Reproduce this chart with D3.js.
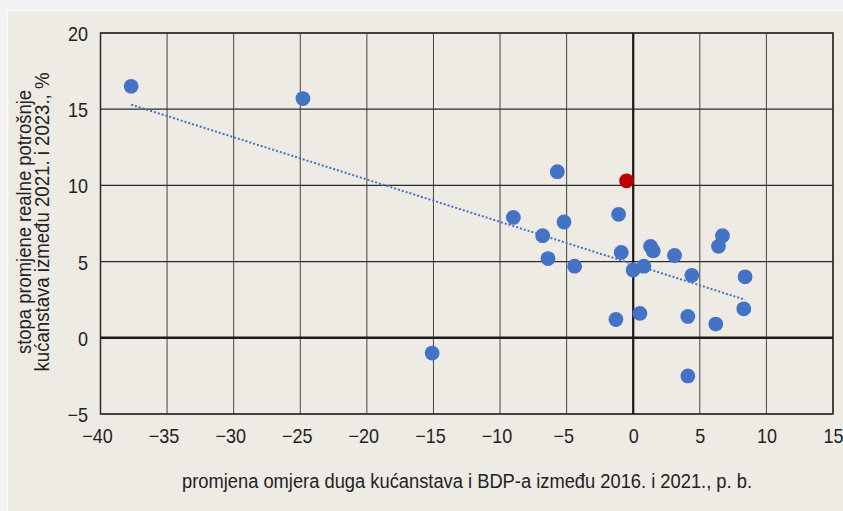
<!DOCTYPE html>
<html><head><meta charset="utf-8">
<script src="https://cdn.jsdelivr.net/npm/d3@7"></script>
<style>
html,body{margin:0;padding:0;background:#f2f2f2;}
svg{display:block;}
text{font-family:"Liberation Sans",Arial,Helvetica,sans-serif;fill:#222;}
</style></head><body>
<svg id="c" width="843" height="511"></svg>
<script>
// Data: x = change of household debt/GDP ratio 2016–2021 (p.p.), y = change of real consumption 2021–2023 (%)
const xVals = [-37.7, -24.8, -15.1, -9.0, -6.8, -6.4, -5.7, -5.2, -4.4, -1.3, -1.1, -0.9, -0.01, 0.5, 0.8, 1.3, 1.5, 3.1, 4.1, 4.1, 4.4, 6.2, 6.4, 6.7, 8.3, 8.4];
const yVals = [16.5, 15.7, -1.0, 7.9, 6.7, 5.2, 10.9, 7.6, 4.7, 1.2, 8.1, 5.6, 4.45, 1.6, 4.7, 6.0, 5.7, 5.4, 1.4, -2.5, 4.1, 0.9, 6.0, 6.7, 1.9, 4.0];
const highlightX = [-0.5];
const highlightY = [10.3];
const trendX = [-37.7, 8.4];
const trendY = [15.3, 2.5];
const xTicks = [-40, -35, -30, -25, -20, -15, -10, -5, 0, 5, 10, 15];
const yTicks = [-5, 0, 5, 10, 15, 20];
const xTitle = "promjena omjera duga kućanstava i BDP-a između 2016. i 2021., p. b.";
const yTitle = ["stopa promjene realne potrošnje", "kućanstava između 2021. i 2023., %"];

const svg = d3.select("#c");
// panel
svg.append("rect").attr("x", 7.5).attr("y", 10.5).attr("width", 850).attr("height", 510)
  .attr("fill", "#eeebe5").attr("stroke", "#fafafa").attr("stroke-width", 1.5);

const x = d3.scaleLinear().domain([-40, 15]).range([100.5, 833]);
const y = d3.scaleLinear().domain([-5, 20]).range([414, 33]);

const g = svg.append("g");
// grid
g.selectAll(".vg").data(xTicks).join("line")
  .attr("x1", d => x(d)).attr("x2", d => x(d)).attr("y1", y(20)).attr("y2", y(-5))
  .attr("stroke", "#444").attr("stroke-width", 1);
g.selectAll(".hg").data(yTicks).join("line")
  .attr("y1", d => y(d)).attr("y2", d => y(d)).attr("x1", x(-40)).attr("x2", x(15))
  .attr("stroke", "#2a2a2a").attr("stroke-width", 1.2);
// frame
g.append("rect").attr("x", x(-40)).attr("y", y(20)).attr("width", x(15) - x(-40)).attr("height", y(-5) - y(20))
  .attr("fill", "none").attr("stroke", "#2a2a2a").attr("stroke-width", 1.5);
// zero lines
g.append("line").attr("x1", x(0)).attr("x2", x(0)).attr("y1", y(20)).attr("y2", y(-5)).attr("stroke", "#1a1a1a").attr("stroke-width", 2.2);
g.append("line").attr("x1", x(-40)).attr("x2", x(15)).attr("y1", y(0)).attr("y2", y(0)).attr("stroke", "#1a1a1a").attr("stroke-width", 2.5);

const fmt = d => String(d).replace("-", "\u2212");
// axes (labels only)
const xAxis = d3.axisBottom(x).tickValues(xTicks).tickSize(0).tickPadding(0).tickFormat(fmt);
const xa = svg.append("g").attr("transform", `translate(0,${y(-5) + 28.5})`).call(xAxis);
xa.select(".domain").remove();
xa.selectAll(".tick text").attr("font-size", 20).attr("font-family", null).attr("y", 0).attr("dy", 0)
  .attr("fill", "#222")
  .attr("transform", d => `translate(${d < 0 ? -3.5 : 0},0) scale(0.9,1)`);

const yAxis = d3.axisLeft(y).tickValues(yTicks).tickSize(0).tickPadding(0).tickFormat(fmt);
const ya = svg.append("g").attr("transform", `translate(88,0)`).call(yAxis);
ya.select(".domain").remove();
ya.selectAll(".tick text").attr("font-size", 20).attr("font-family", null).attr("x", 0).attr("dy", 0).attr("y", 7.5)
  .attr("fill", "#222").attr("transform", "scale(0.9,1)");
svg.selectAll(".tick line").remove();

// trendline
svg.append("line")
  .attr("x1", x(trendX[0])).attr("y1", y(trendY[0])).attr("x2", x(trendX[1])).attr("y2", y(trendY[1]))
  .attr("stroke", "#4472c4").attr("stroke-width", 2).attr("stroke-dasharray", "2,2");

// points
const pts = xVals.map((v, i) => ({ x: v, y: yVals[i] }));
svg.selectAll(".pt").data(pts).join("circle")
  .attr("cx", d => x(d.x)).attr("cy", d => y(d.y)).attr("r", 7.4).attr("fill", "#4472c4");
svg.selectAll(".hp").data(highlightX.map((v, i) => ({ x: v, y: highlightY[i] }))).join("circle")
  .attr("cx", d => x(d.x)).attr("cy", d => y(d.y)).attr("r", 7.4).attr("fill", "#c00000");

// titles
svg.append("text").attr("x", 467).attr("y", 488).attr("text-anchor", "middle").attr("font-size", 20)
  .attr("textLength", 570).attr("lengthAdjust", "spacingAndGlyphs").text(xTitle);
const ytg = svg.append("g").attr("transform", "translate(0,222) rotate(-90)");
ytg.append("text").attr("x", 0).attr("y", 31).attr("text-anchor", "middle").attr("font-size", 20)
  .attr("textLength", 264).attr("lengthAdjust", "spacingAndGlyphs").text(yTitle[0]);
ytg.append("text").attr("x", 0).attr("y", 49).attr("text-anchor", "middle").attr("font-size", 20)
  .attr("textLength", 299).attr("lengthAdjust", "spacingAndGlyphs").text(yTitle[1]);
</script>
</body></html>
